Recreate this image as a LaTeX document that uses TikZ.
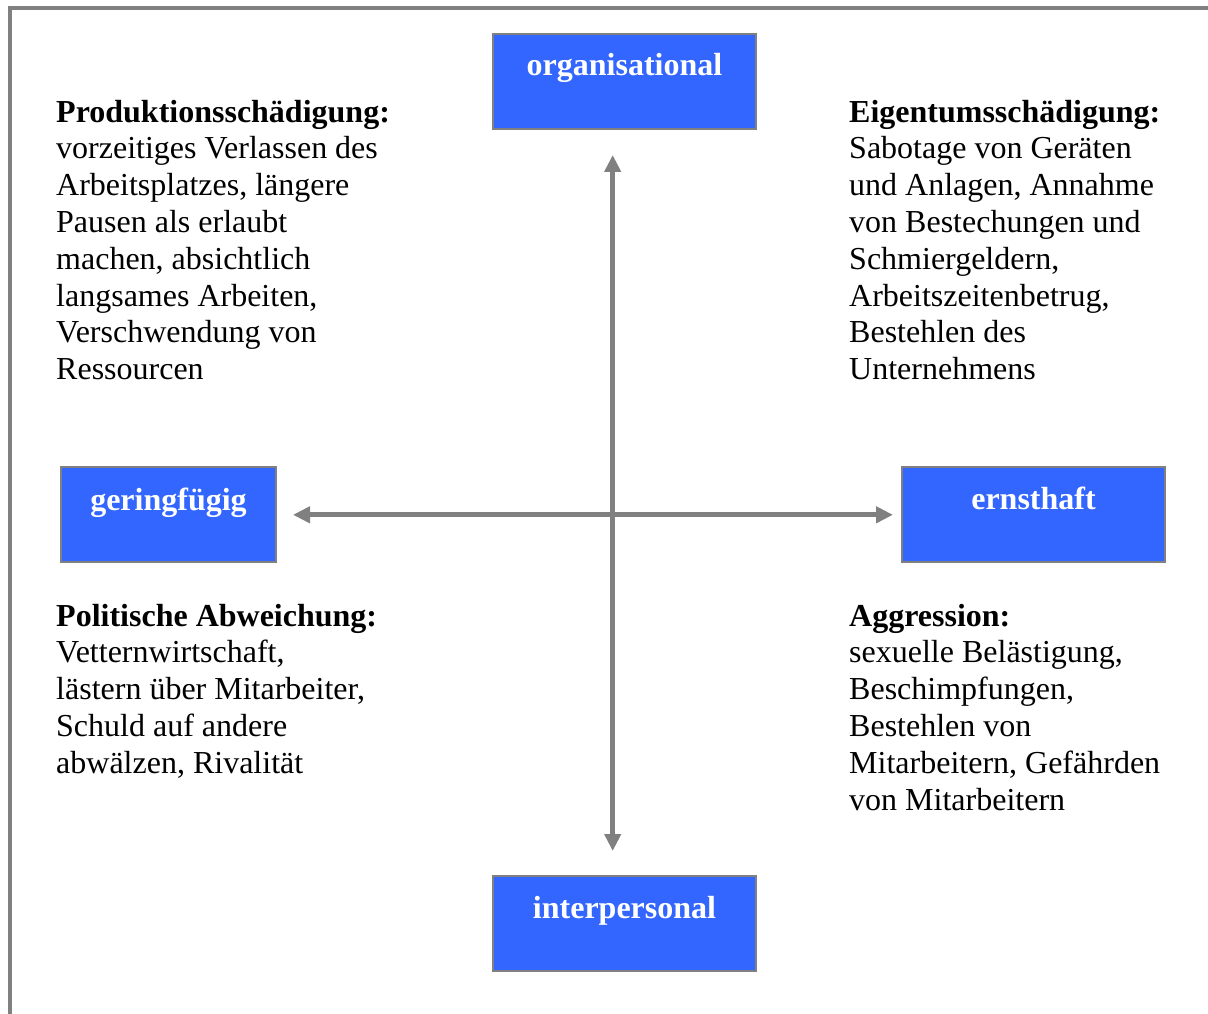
\documentclass[tikz,border=0pt]{standalone}
\usepackage{fontspec}
\setmainfont{Liberation Serif}
\usetikzlibrary{arrows.meta}
\definecolor{boxblue}{HTML}{3366FF}
\definecolor{linegray}{HTML}{808080}
\begin{document}
\begin{tikzpicture}[x=1pt,y=-1pt,
  catbox/.style={draw=linegray, line width=2pt, fill=boxblue, rectangle, minimum height=95pt, inner sep=0pt},
  catlabel/.style={text=white, font={\fontsize{32}{36.8}\selectfont\bfseries}, anchor=base, inner sep=0pt},
  desc/.style={font={\fontsize{32}{36.8}\selectfont}, align=left, anchor=base west, inner sep=0pt},
  axis/.style={draw=linegray, line width=5pt, {Triangle[width=16pt,length=17pt]}-{Triangle[width=16pt,length=17pt]}}
]
\useasboundingbox (0,0) rectangle (1208,1014);
\fill[white] (0,0) rectangle (1208,1014);
% frame
\draw[linegray, line width=4pt] (1208,8) -- (10,8) -- (10,1014);
% boxes
\node[catbox, minimum width=263pt] (org) at (624.5,81.5) {};
\node[catlabel] (orgl) at ([yshift=-43pt]org.north) {organisational};
\node[catbox, minimum width=215pt] (ger) at (168.5,514.5) {};
\node[catlabel] (gerl) at ([yshift=-44pt]ger.north) {geringfügig};
\node[catbox, minimum width=263pt] (ern) at (1033.5,514.5) {};
\node[catlabel] (ernl) at ([yshift=-43pt]ern.north) {ernsthaft};
\node[catbox, minimum width=263pt] (int) at (624.5,923.5) {};
\node[catlabel] (intl) at ([yshift=-43pt]int.north) {interpersonal};
% axes
\coordinate (vt) at (612.7,155);
\coordinate (vb) at (612.7,851);
\coordinate (hl) at (293,514.8);
\coordinate (hr) at (893,514.8);
\draw[axis] (vt) -- (vb);
\draw[axis] (hl) -- (hr);
% descriptions (anchored at the baseline of their last line)
\node[desc] (prod) at (56,379.6) {\textbf{Produktionsschädigung:}\\vorzeitiges Verlassen des\\Arbeitsplatzes, längere\\Pausen als erlaubt\\machen, absichtlich\\langsames Arbeiten,\\Verschwendung von\\Ressourcen};
\node[desc] (eig) at (849,379.6) {\textbf{Eigentumsschädigung:}\\Sabotage von Geräten\\und Anlagen, Annahme\\von Bestechungen und\\Schmiergeldern,\\Arbeitszeitenbetrug,\\Bestehlen des\\Unternehmens};
\node[desc] (pol) at (56,773.2) {\textbf{Politische Abweichung:}\\Vetternwirtschaft,\\lästern über Mitarbeiter,\\Schuld auf andere\\abwälzen, Rivalität};
\node[desc] (agg) at (849,810) {\textbf{Aggression:}\\sexuelle Belästigung,\\Beschimpfungen,\\Bestehlen von\\Mitarbeitern, Gefährden\\von Mitarbeitern};
\end{tikzpicture}
\end{document}
